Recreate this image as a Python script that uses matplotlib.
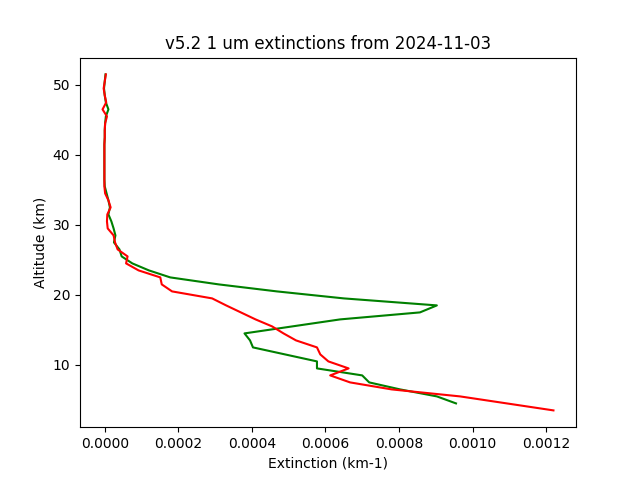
import matplotlib
matplotlib.use('Agg')

import matplotlib.pyplot as plt

# Altitude grid (km), top to bottom
alt_red = [51.5, 50.5, 49.5, 48.5, 47.5, 46.5, 45.5, 44.5, 43.5, 42.5,
           41.5, 40.5, 39.5, 38.5, 37.5, 36.5, 35.5, 34.5, 33.5, 32.5,
           31.5, 30.5, 29.5, 28.5, 27.5, 26.5, 25.5, 24.5, 23.5, 22.5,
           21.5, 20.5, 19.5, 18.5, 17.5, 16.5, 15.5, 14.5, 13.5, 12.5,
           11.5, 10.5, 9.5, 8.5, 7.5, 6.5, 5.5, 4.5, 3.5]
alt_green = alt_red[:-1]

# Extinction (km-1)
ext_red = [3e-6, 0, -3e-6, 0, 4e-6, -6e-6, 6e-6, 1e-6, 0, 0,
           -1e-6, -1e-6, -1e-6, -1e-6, -1e-6, -1e-6, -1e-6, 1e-6, 1.0e-5, 1.6e-5,
           7e-6, 6e-6, 8e-6, 2.4e-5, 2.8e-5, 3.5e-5, 6.2e-5, 5.8e-5, 9.2e-5, 1.51e-4,
           1.55e-4, 1.83e-4, 2.92e-4, 3.3e-4, 3.7e-4, 4.1e-4, 4.55e-4, 4.86e-4, 5.2e-4, 5.77e-4,
           5.86e-4, 6.08e-4, 6.63e-4, 6.13e-4, 6.67e-4, 7.8e-4, 9.66e-4, 1.093e-3, 1.22e-3]
ext_green = [2e-6, 0, -2e-6, 0, 3e-6, 1.0e-5, 3e-6, 1e-6, 0, 0,
             -1e-6, -1e-6, -1e-6, -1e-6, -1e-6, -1e-6, 0, 5e-6, 1.0e-5, 1.4e-5,
             1.0e-5, 1.8e-5, 2.4e-5, 2.9e-5, 2.5e-5, 4.0e-5, 4.6e-5, 7.5e-5, 1.2e-4, 1.78e-4,
             3.1e-4, 4.68e-4, 6.5e-4, 9.03e-4, 8.57e-4, 6.4e-4, 5.1e-4, 3.8e-4, 3.95e-4, 4.03e-4,
             4.9e-4, 5.77e-4, 5.77e-4, 7.0e-4, 7.19e-4, 8.03e-4, 9.03e-4, 9.55e-4]

plt.figure(figsize=(6.4, 4.8), dpi=100)
plt.plot(ext_green, alt_green, 'g')
plt.plot(ext_red, alt_red, 'r')

plt.title('v5.2 1 um extinctions from 2024-11-03')
plt.xlabel('Extinction (km-1)')
plt.ylabel('Altitude (km)')

plt.savefig('out.png', format='png')
